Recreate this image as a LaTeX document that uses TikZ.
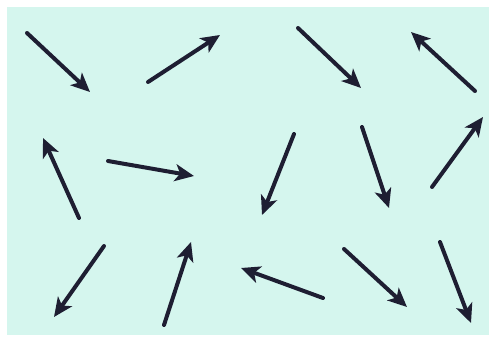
\documentclass[tikz,border=0pt]{standalone}
\usetikzlibrary{arrows.meta}
\definecolor{mint}{HTML}{D5F6EE}
\definecolor{ink}{HTML}{1E1E32}
\begin{document}
\begin{tikzpicture}[x=1pt,y=-1pt,
  vec/.style={draw=ink,line width=4pt,line cap=round,-{Stealth[length=19pt,width=17pt,inset=5pt]}}]
\useasboundingbox (0,0) rectangle (493,340);
\fill[white] (0,0) rectangle (493,340);
\fill[mint] (7,7) rectangle (489,335);
\draw[vec] (27,33) -- (90,92);
\draw[vec] (148,82) -- (220,35);
\draw[vec] (298,28) -- (361,88);
\draw[vec] (475,91) -- (411,32);
\draw[vec] (79,218) -- (43,138);
\draw[vec] (108,161) -- (194,176);
\draw[vec] (294,134) -- (262,215);
\draw[vec] (362,127) -- (389,208);
\draw[vec] (432,187) -- (483,117);
\draw[vec] (104,246) -- (54,317);
\draw[vec] (164,325) -- (191,242);
\draw[vec] (323,298) -- (241,268);
\draw[vec] (344,249) -- (407,307);
\draw[vec] (440,242) -- (471,323);
\end{tikzpicture}
\end{document}
